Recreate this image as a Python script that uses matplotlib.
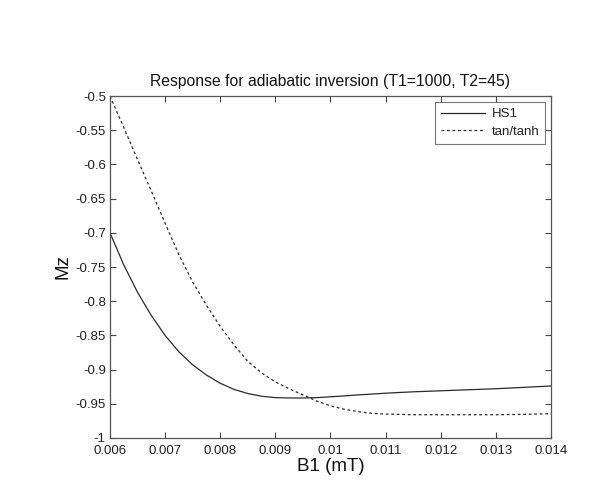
import matplotlib
matplotlib.use("Agg")
import matplotlib.pyplot as plt
from matplotlib.ticker import FixedLocator

plt.rcParams['font.family'] = ['Liberation Sans', 'DejaVu Sans']

b1 = [0.006, 0.00625, 0.0065, 0.00675, 0.007, 0.00725, 0.0075, 0.00775, 0.008,
      0.00825, 0.0085, 0.00875, 0.009, 0.00925, 0.0095, 0.00975, 0.010, 0.01025,
      0.0105, 0.01075, 0.011, 0.0115, 0.012, 0.0125, 0.013, 0.0135, 0.014]
hs1 = [-0.700, -0.747, -0.787, -0.821, -0.850, -0.874, -0.893, -0.908, -0.920,
       -0.929, -0.935, -0.939, -0.941, -0.9415, -0.9415, -0.941, -0.9398, -0.9385,
       -0.937, -0.9358, -0.9345, -0.9325, -0.931, -0.9295, -0.928, -0.926, -0.924]
tantanh = [-0.500, -0.546, -0.593, -0.639, -0.686, -0.732, -0.772, -0.806, -0.837,
           -0.864, -0.888, -0.905, -0.918, -0.928, -0.937, -0.946, -0.953, -0.958,
           -0.9615, -0.964, -0.965, -0.966, -0.966, -0.966, -0.966, -0.9655, -0.9645]

xticks = [0.006, 0.007, 0.008, 0.009, 0.01, 0.011, 0.012, 0.013, 0.014]
xticklabels = ['0.006', '0.007', '0.008', '0.009', '0.01', '0.011', '0.012', '0.013', '0.014']
yticks = [-1, -0.95, -0.9, -0.85, -0.8, -0.75, -0.7, -0.65, -0.6, -0.55, -0.5]
yticklabels = ['-1', '-0.95', '-0.9', '-0.85', '-0.8', '-0.75', '-0.7', '-0.65', '-0.6', '-0.55', '-0.5']

fig = plt.figure(figsize=(6.02, 4.95), dpi=100)
ax = fig.add_axes([0.1827, 0.1152, 0.7326, 0.6908])

line_col = '#2a2a2a'
ax.plot(b1, hs1, color=line_col, lw=0.9, label='HS1')
ax.plot(b1, tantanh, color=line_col, lw=0.9, linestyle=(0, (2.2, 2.2)), label='tan/tanh')

ax.set_xlim(0.006, 0.014)
ax.set_ylim(-1, -0.5)
ax.xaxis.set_major_locator(FixedLocator(xticks))
ax.set_xticklabels(xticklabels)
ax.yaxis.set_major_locator(FixedLocator(yticks))
ax.set_yticklabels(yticklabels)

ax.tick_params(direction='in', top=True, right=True, length=4, width=0.8,
               colors='#444444', labelcolor='#222222', labelsize=9.5)
ax.tick_params(axis='x', pad=5)
ax.tick_params(axis='y', pad=3)
for s in ax.spines.values():
    s.set_color('#555555')
    s.set_linewidth(0.9)

ax.set_title('Response for adiabatic inversion (T1=1000, T2=45)', fontsize=11.3,
             color='#111111', pad=7)
ax.set_xlabel('B1 (mT)', fontsize=13.5, color='#111111', labelpad=1)
ax.set_ylabel('Mz', fontsize=13.5, color='#111111', labelpad=3)

leg = ax.legend(loc='upper right', fontsize=9.5, frameon=True, fancybox=False,
                edgecolor='#555555', borderaxespad=0.45, handlelength=3.3,
                handletextpad=0.5, labelspacing=0.4, borderpad=0.45)
leg.get_frame().set_linewidth(0.8)
for t in leg.get_texts():
    t.set_color('#222222')

fig.savefig('out.png', dpi=100, facecolor='white')
